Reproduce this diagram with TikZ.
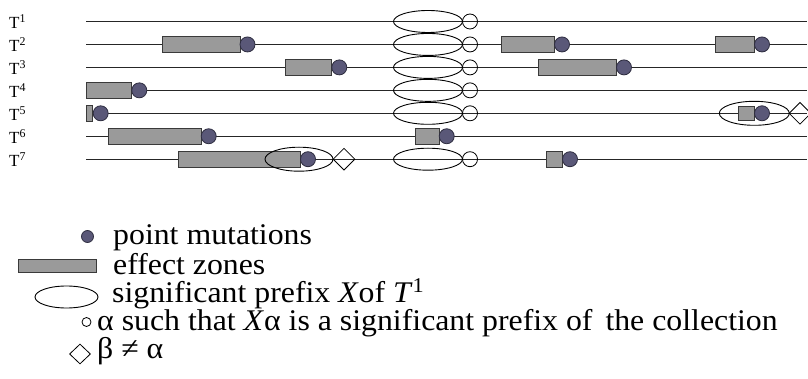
\documentclass[tikz,border=0pt]{standalone}
\usepackage{fontspec}
\setmainfont{Liberation Serif}
\newfontfamily\legfont[FakeStretch=1.06]{Liberation Serif}
\usetikzlibrary{shapes.geometric}
\definecolor{zonegray}{HTML}{9A9A9A}
\definecolor{zoneedge}{HTML}{3A3A3A}
\definecolor{mutcol}{HTML}{5A5878}
\definecolor{mutedge}{HTML}{2E2D40}
\tikzset{
  seq/.style={line width=1.1pt, draw=black!85},
  zone/.style={rectangle, draw=zoneedge, fill=zonegray, line width=0.9pt, inner sep=0pt, minimum height=16pt},
  mut/.style={circle, draw=mutedge, fill=mutcol, line width=0.8pt, inner sep=0pt, minimum size=15pt},
  pref/.style={ellipse, draw=black, line width=0.9pt, inner sep=0pt, minimum width=69pt, minimum height=22pt},
  alph/.style={circle, draw=black, line width=0.8pt, inner sep=0pt, minimum size=15pt},
  bet/.style={diamond, draw=black, line width=0.8pt, inner sep=0pt, minimum width=22pt, minimum height=22pt},
  rowlab/.style={anchor=base west, inner sep=0pt, font=\fontsize{17}{17}\selectfont},
  legtxt/.style={anchor=base west, inner sep=0pt, text height=20pt, text depth=5pt, font=\legfont\fontsize{30}{30}\selectfont},
}
\begin{document}
\begin{tikzpicture}[x=1pt,y=-1pt]
\useasboundingbox (0,0) rectangle (808,379);
% rows
\foreach \i in {1,...,7} {
  \pgfmathsetmacro{\yy}{21.5+22.95*(\i-1)}
  \coordinate (s\i) at (86,\yy);
  \coordinate (e\i) at (807,\yy);
  \draw[seq] (s\i) -- (e\i);
  \node[rowlab] (lab\i) at (9,\yy+7.5) {T\textsuperscript{\i}};
}
% significant prefixes and alphas
\foreach \i in {1,2,3,4,5,7} {
  \pgfmathsetmacro{\yy}{21.5+22.95*(\i-1)}
  \node[pref] (p\i) at (428,\yy) {};
  \node[alph] (a\i) at (470,\yy) {};
}
% effect zones with point mutations: name, x1, x2, mutation x, row
\foreach \n/\xa/\xb/\xm/\r in {
  z2a/162.3/240/247.5/2, z2b/501/554/562/2, z2c/715.7/754.3/762/2,
  z3a/285/331.7/339.3/3, z3b/538.3/616.7/624/3,
  z4a/86/131.7/139.3/4,
  z5a/86/92.7/100.7/5,
  z6a/108.3/201.3/208.7/6, z6b/415.7/439/446.7/6,
  z7a/178.3/300/308/7, z7b/546.7/562.3/570/7} {
  \pgfmathsetmacro{\yy}{21.5+22.95*(\r-1)}
  \pgfmathsetmacro{\ww}{\xb-\xa}
  \pgfmathsetmacro{\xc}{(\xa+\xb)/2}
  \node[zone, minimum width=\ww pt] (\n) at (\xc,\yy) {};
  \node[mut] (m\n) at (\xm,\yy) {};
}
% T5 right zone (smaller)
\node[zone, minimum width=15.7pt, minimum height=14pt] (z5b) at (746.2,113.3) {};
\node[mut] (mz5b) at (762,113.3) {};
% divergent prefixes
\node[pref, minimum width=68pt, minimum height=24pt] (q7) at (299,159.2) {};
\node[bet] (b7) at (344,159.2) {};
\node[pref, minimum width=70pt, minimum height=24pt] (q5) at (754.3,113.3) {};
\node[bet] (b5) at (800,113.3) {};
% legend
\node[mut, minimum size=12pt] (lm) at (87.5,236.5) {};
\node[legtxt] (tm) at (113,245) {point mutations};
\node[zone, minimum width=78pt, minimum height=13pt] (lz) at (57,265.5) {};
\node[legtxt] (tz) at (113,275) {effect zones};
\node[pref, minimum width=63pt, minimum height=22pt] (lp) at (66.5,297) {};
\node[legtxt] (tp) at (112,302) {significant prefix \textit{X}of \textit{T}\textsuperscript{1}};
\node[alph, minimum size=9pt] (la) at (86.5,322) {};
\node[legtxt] (ta) at (97,330) {α such that \textit{X}α is a significant prefix of\, the collection};
\node[bet, minimum width=21pt, minimum height=20pt] (lb) at (80,354) {};
\node[legtxt] (tb) at (97,358) {β ≠ α};
\end{tikzpicture}
\end{document}
